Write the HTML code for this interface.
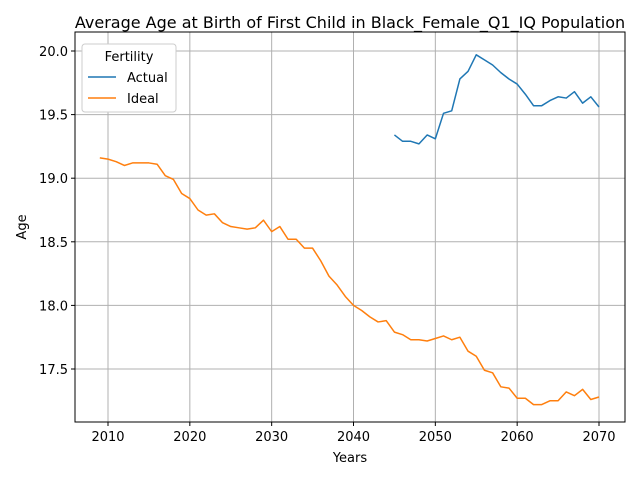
<!DOCTYPE html>
<html><head><meta charset="utf-8"><style>
body{margin:0;background:#fff}
svg text{font-family:"DejaVu Sans","Liberation Sans",sans-serif;fill:#000}
</style></head><body>
<svg id="chart" width="640" height="480">
<rect width="640" height="480" fill="#fff"/>
<text x="350" y="28" font-size="16" text-anchor="middle">Average Age at Birth of First Child in Black_Female_Q1_IQ Population</text>
<g id="grid"></g><g id="ticks"></g><g id="lines"></g>
<rect x="75" y="32" width="550" height="390" fill="none" stroke="#000" stroke-width="1"/>
<text x="350" y="462" font-size="13" text-anchor="middle">Years</text>
<text x="26" y="227" font-size="13" text-anchor="middle" transform="rotate(-90 26 227)">Age</text>
<g>
<rect x="82" y="44" width="94" height="68" rx="3" fill="#fff" stroke="#ccc"/>
<text x="129" y="61" font-size="13" text-anchor="middle">Fertility</text>
<line x1="88" y1="77" x2="116" y2="77" stroke="#1f77b4" stroke-width="1.5"/>
<text x="127" y="82" font-size="13">Actual</text>
<line x1="88" y1="98" x2="116" y2="98" stroke="#ff7f0e" stroke-width="1.5"/>
<text x="127" y="103" font-size="13">Ideal</text>
</g>
</svg>
<script>
const xTicks=[2010,2020,2030,2040,2050,2060,2070];
const yTicks=[17.5,18.0,18.5,19.0,19.5,20.0];
const idealYears=[];for(let y=2009;y<=2070;y++)idealYears.push(y);
const idealValues=[19.16,19.15,19.13,19.10,19.12,19.12,19.12,19.11,19.02,18.99,18.88,18.84,18.75,18.71,18.72,18.65,18.62,18.61,18.60,18.61,18.67,18.58,18.62,18.52,18.52,18.45,18.45,18.35,18.23,18.16,18.07,18.00,17.96,17.91,17.87,17.88,17.79,17.77,17.73,17.73,17.72,17.74,17.76,17.73,17.75,17.64,17.60,17.49,17.47,17.36,17.35,17.27,17.27,17.22,17.22,17.25,17.25,17.32,17.29,17.34,17.26,17.28];
const actualYears=[];for(let y=2045;y<=2070;y++)actualYears.push(y);
const actualValues=[19.34,19.29,19.29,19.27,19.34,19.31,19.51,19.53,19.78,19.84,19.97,19.93,19.89,19.83,19.78,19.74,19.66,19.57,19.57,19.61,19.64,19.63,19.68,19.59,19.64,19.56];
const X=v=>108+(v-2010)*(491/60);
const Y=v=>51+(20-v)*127.2;
const NS='http://www.w3.org/2000/svg';
const g=document.getElementById('grid'),t=document.getElementById('ticks'),L=document.getElementById('lines');
function mk(tag,attrs,parent){const e=document.createElementNS(NS,tag);for(const k in attrs)e.setAttribute(k,attrs[k]);parent.appendChild(e);return e;}
xTicks.forEach(v=>{
 const l=mk('line',{x1:X(v),x2:X(v),y1:32,y2:422,stroke:'#b0b0b0','stroke-width':1},g);
 
 
 mk('line',{x1:X(v),x2:X(v),y1:422,y2:426,stroke:'#000'},t);
 const s=mk('text',{x:X(v),y:441,'font-size':13,'text-anchor':'middle'},t);s.textContent=v;
 
 
});
yTicks.forEach(v=>{
 const l=mk('line',{x1:75,x2:625,y1:Y(v),y2:Y(v),stroke:'#b0b0b0','stroke-width':1},g);
 
 
 mk('line',{x1:71,x2:75,y1:Y(v),y2:Y(v),stroke:'#000'},t);
 const s=mk('text',{x:68,y:Y(v)+5,'font-size':13,'text-anchor':'end'},t);s.textContent=v.toFixed(1);
 
 
});
function line(xs,ys,c,name){
 const p=mk('polyline',{points:xs.map((x,i)=>X(x)+','+Y(ys[i])).join(' '),fill:'none',stroke:c,'stroke-width':1.5,'stroke-linejoin':'round'},L);
 
 
}
line(actualYears,actualValues,'#1f77b4','actual-line');
line(idealYears,idealValues,'#ff7f0e','ideal-line');
</script>
</body></html>
